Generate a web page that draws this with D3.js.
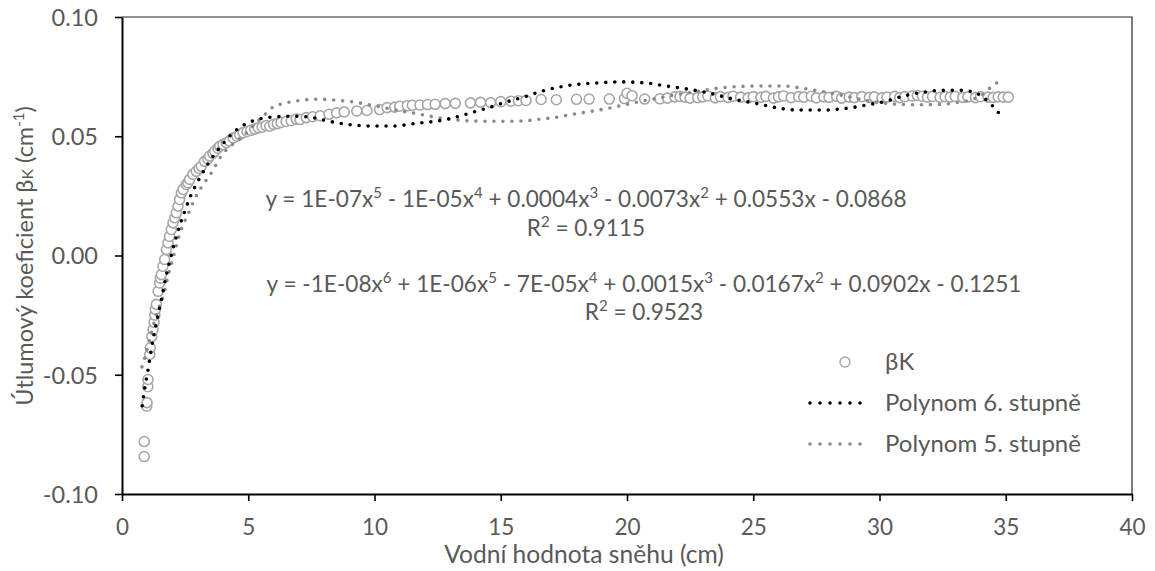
<!DOCTYPE html>
<html>
<head>
<meta charset="utf-8">
<script src="https://cdn.jsdelivr.net/npm/d3@7"></script>
<style>
  html, body { margin: 0; padding: 0; background: #fff; }
  svg { display: block; }
  text { font-family: Lato, "Noto Sans", sans-serif; fill: #595959; }
</style>
</head>
<body>
<svg id="chart" width="1155" height="571"></svg>
<script>
// Measured attenuation coefficient βK against snow water equivalent
const snowX = [
  0.88, 0.88, 0.98, 0.99, 1.02, 1.03, 1.10, 1.12, 1.18, 1.23, 1.27, 1.30, 1.32, 1.36,
  1.43, 1.49, 1.52, 1.56, 1.62, 1.69, 1.76, 1.82, 1.88, 1.95, 2.02, 2.09, 2.15, 2.22,
  2.28, 2.35, 2.42, 2.55, 2.61, 2.68, 2.81, 2.94, 3.05, 3.14, 3.27, 3.40, 3.47, 3.60,
  3.67, 3.80, 3.87, 4.00, 4.13, 4.25, 4.40, 4.55, 4.66, 4.80, 4.95, 5.10, 5.25, 5.40,
  5.55, 5.70, 5.85, 6.00, 6.15, 6.30, 6.50, 6.70, 6.90, 7.05, 7.30, 7.55, 7.85, 8.20,
  8.50, 8.80, 9.30, 9.70, 10.20, 10.50, 10.80, 11.00, 11.30, 11.50, 11.80, 12.10, 12.40,
  12.80, 13.20, 13.80, 14.20, 14.60, 15.00, 15.40, 15.70, 16.00, 16.60, 17.20, 18.00,
  18.50, 19.30, 19.90, 20.00, 20.20, 20.70, 21.30, 21.60, 21.90, 22.10, 22.30, 22.50,
  22.80, 23.00, 23.20, 23.50, 23.70, 24.00, 24.20, 24.50, 24.80, 25.00, 25.30, 25.50,
  25.80, 26.00, 26.20, 26.50, 26.80, 27.00, 27.30, 27.50, 27.80, 28.00, 28.30, 28.50,
  28.80, 29.00, 29.30, 29.60, 29.80, 30.10, 30.30, 30.60, 30.80, 31.00, 31.30, 31.50,
  31.70, 31.90, 32.10, 32.40, 32.60, 32.80, 33.00, 33.30, 33.50, 33.80, 34.00, 34.30,
  34.50, 34.70, 34.90, 35.10
];
const snowBeta = [
  -0.0843, -0.0780, -0.0632, -0.0617, -0.0550, -0.0520, -0.0415, -0.0387, -0.0340, -0.0310, -0.0280, -0.0250, -0.0226, -0.0205,
  -0.0150, -0.0115, -0.0095, -0.0080, -0.0045, -0.0017, 0.0025, 0.0053, 0.0080, 0.0109, 0.0137, 0.0158, 0.0179, 0.0207,
  0.0235, 0.0263, 0.0277, 0.0298, 0.0305, 0.0319, 0.0340, 0.0353, 0.0365, 0.0374, 0.0395, 0.0405, 0.0417, 0.0428,
  0.0437, 0.0450, 0.0458, 0.0465, 0.0473, 0.0480, 0.0493, 0.0500, 0.0507, 0.0515, 0.0520, 0.0525, 0.0530, 0.0535,
  0.0538, 0.0545, 0.0542, 0.0550, 0.0553, 0.0558, 0.0562, 0.0565, 0.0572, 0.0570, 0.0578, 0.0582, 0.0586, 0.0592,
  0.0598, 0.0602, 0.0606, 0.0608, 0.0612, 0.0620, 0.0622, 0.0626, 0.0628, 0.0630, 0.0631, 0.0633, 0.0634,
  0.0637, 0.0638, 0.0640, 0.0642, 0.0641, 0.0645, 0.0647, 0.0649, 0.0650, 0.0654, 0.0653, 0.0655,
  0.0656, 0.0656, 0.0658, 0.0680, 0.0670, 0.0656, 0.0657, 0.0660, 0.0665, 0.0667, 0.0664, 0.0660,
  0.0662, 0.0665, 0.0669, 0.0661, 0.0666, 0.0663, 0.0668, 0.0664, 0.0661, 0.0666, 0.0663, 0.0667,
  0.0660, 0.0665, 0.0669, 0.0662, 0.0666, 0.0664, 0.0668, 0.0661, 0.0665, 0.0663, 0.0667, 0.0660,
  0.0664, 0.0662, 0.0666, 0.0663, 0.0665, 0.0661, 0.0664, 0.0667, 0.0662, 0.0666, 0.0669, 0.0671,
  0.0668, 0.0664, 0.0667, 0.0663, 0.0666, 0.0664, 0.0667, 0.0663, 0.0665, 0.0662, 0.0666, 0.0664,
  0.0663, 0.0665, 0.0664, 0.0664
];

// Sampled course of the 6th-degree polynomial trendline
const poly6X = [
  0.80, 0.91, 1.03, 1.15, 1.27, 1.43, 1.57, 1.72, 1.90, 2.10, 2.30, 2.50, 2.72, 3.00, 3.27,
  3.50, 3.93, 4.40, 5.20, 6.00, 6.80, 7.45, 8.10, 8.90, 9.95, 10.70, 11.80, 12.50, 13.10,
  13.80, 14.50, 15.10, 15.80, 16.80, 17.90, 18.90, 19.70, 20.80, 21.40, 22.50, 23.30, 24.20,
  25.00, 26.00, 26.70, 27.80, 28.90, 29.60, 30.30, 30.90, 31.70, 32.40, 33.10, 33.70, 34.10,
  34.40, 34.65, 34.90
];
const poly6Y = [
  -0.0630, -0.0550, -0.0480, -0.0400, -0.0330, -0.0250, -0.0180, -0.0100, -0.0020, 0.0060, 0.0130, 0.0190, 0.0250, 0.0310, 0.0360,
  0.0400, 0.0460, 0.0515, 0.0565, 0.0581, 0.0584, 0.0580, 0.0565, 0.0550, 0.0543, 0.0543, 0.0556, 0.0564, 0.0577,
  0.0598, 0.0619, 0.0640, 0.0661, 0.0694, 0.0716, 0.0724, 0.0728, 0.0723, 0.0713, 0.0696, 0.0680, 0.0656,
  0.0640, 0.0618, 0.0610, 0.0610, 0.0620, 0.0633, 0.0648, 0.0667, 0.0684, 0.0692, 0.0693, 0.0686, 0.0664,
  0.0636, 0.0607, 0.0573
];

// Sampled course of the 5th-degree polynomial trendline
const poly5X = [
  0.79, 0.90, 1.00, 1.15, 1.30, 1.45, 1.56, 1.66, 1.82, 2.02, 2.32, 2.61, 2.90, 3.20, 3.54,
  3.93, 4.46, 4.86, 5.30, 5.70, 6.02, 6.36, 6.72, 7.05, 7.40, 7.77, 8.13, 8.50, 8.87, 9.23,
  9.58, 9.93, 10.28, 10.60, 10.97, 11.30, 11.67, 12.00, 12.36, 12.72, 13.06, 13.40, 13.78,
  14.50, 15.20, 15.90, 16.40, 17.10, 17.80, 18.50, 19.20, 19.92, 20.58, 21.28, 21.95, 22.70,
  23.40, 24.08, 24.85, 25.50, 26.30, 27.00, 27.70, 28.55, 29.30, 30.06, 30.73, 31.43, 32.30,
  33.00, 33.65, 34.00, 34.30, 34.60, 34.90
];
const poly5Y = [
  -0.0467, -0.0430, -0.0390, -0.0330, -0.0270, -0.0220, -0.0195, -0.0160, -0.0087, -0.0010, 0.0102, 0.0172, 0.0242, 0.0295, 0.0347,
  0.0417, 0.0473, 0.0507, 0.0555, 0.0595, 0.0625, 0.0636, 0.0645, 0.0650, 0.0654, 0.0655, 0.0654, 0.0651, 0.0647, 0.0643,
  0.0636, 0.0629, 0.0623, 0.0615, 0.0608, 0.0601, 0.0595, 0.0588, 0.0581, 0.0574, 0.0570, 0.0567, 0.0564,
  0.0563, 0.0563, 0.0564, 0.0570, 0.0578, 0.0591, 0.0603, 0.0616, 0.0632, 0.0647, 0.0661, 0.0674, 0.0686,
  0.0699, 0.0706, 0.0710, 0.0711, 0.0710, 0.0700, 0.0688, 0.0671, 0.0654, 0.0640, 0.0634, 0.0632, 0.0633,
  0.0640, 0.0654, 0.0668, 0.0696, 0.0720, 0.0742
];

const xTicks = [0, 5, 10, 15, 20, 25, 30, 35, 40];
const yTicks = [-0.10, -0.05, 0.00, 0.05, 0.10];
const legendLabels = ["βK", "Polynom 6. stupně", "Polynom 5. stupně"];

const svg = d3.select("#chart");
const x = d3.scaleLinear().domain([0, 40]).range([122, 1132]);
const y = d3.scaleLinear().domain([-0.10, 0.10]).range([494, 17]);

const fmtY = d => d3.format(".2f")(d).replace("\u2212", "-");

// plot-area frame (top and right edges)
svg.append("path")
  .attr("d", `M${x(0)},${y(0.10)}H${x(40)}V${y(-0.10)}`)
  .attr("fill", "none").attr("stroke", "#262626").attr("stroke-width", 1.2);

// axes
const gx = svg.append("g").attr("transform", `translate(0,${y(-0.10)})`)
  .call(d3.axisBottom(x).tickValues(xTicks).tickSize(7).tickSizeOuter(0).tickPadding(18));
const gy = svg.append("g").attr("transform", `translate(${x(0)},0)`)
  .call(d3.axisLeft(y).tickValues(yTicks).tickFormat(fmtY).tickSize(7).tickSizeOuter(0).tickPadding(17));
[gx, gy].forEach(g => {
  g.select(".domain").attr("stroke", "#000").attr("stroke-width", 2);
  g.selectAll(".tick line").attr("stroke", "#000").attr("stroke-width", 1.6);
  g.selectAll(".tick text").style("font-family", "Lato").style("font-size", "22.5px").attr("fill", "#595959");
});
gy.selectAll(".tick text").style("font-size", "23.5px").attr("dy", "0.36em");

// data points
svg.append("g").selectAll("circle")
  .data(snowX.map((v, i) => [v, snowBeta[i]]))
  .join("circle")
  .attr("cx", d => x(d[0])).attr("cy", d => y(d[1])).attr("r", 5)
  .attr("fill", "#fff").attr("stroke", "#a6a6a6").attr("stroke-width", 1.6);

// trendlines
const line = d3.line().x(d => x(d[0])).y(d => y(d[1])).curve(d3.curveMonotoneX);
function dotted(sel, color, width, gap) {
  return sel.attr("fill", "none").attr("stroke", color).attr("stroke-width", width)
    .attr("stroke-linecap", "round").attr("stroke-dasharray", `0 ${gap}`);
}
dotted(svg.append("path").attr("d", line(poly5X.map((v, i) => [v, poly5Y[i]]))), "#8a8a8a", 3.6, 9);
dotted(svg.append("path").attr("d", line(poly6X.map((v, i) => [v, poly6Y[i]]))), "#000", 3.6, 9);

// trendline equations
function eqLine(cx, cy, parts) {
  const t = svg.append("text").attr("x", cx).attr("y", cy).attr("text-anchor", "middle")
    .style("font-size", "22.6px");
  parts.forEach(p => {
    if (typeof p === "string") t.append("tspan").text(p);
    else t.append("tspan").attr("baseline-shift", "super").style("font-size", "15px").text(p.sup);
  });
  return t;
}
eqLine(586, 207, ["y = 1E-07x", {sup: "5"}, " - 1E-05x", {sup: "4"}, " + 0.0004x", {sup: "3"},
  " - 0.0073x", {sup: "2"}, " + 0.0553x - 0.0868"]);
eqLine(586, 236, ["R", {sup: "2"}, " = 0.9115"]);
eqLine(644, 292, ["y = -1E-08x", {sup: "6"}, " + 1E-06x", {sup: "5"}, " - 7E-05x", {sup: "4"},
  " + 0.0015x", {sup: "3"}, " - 0.0167x", {sup: "2"}, " + 0.0902x - 0.1251"]);
eqLine(644, 320, ["R", {sup: "2"}, " = 0.9523"]);

// axis titles
svg.append("text").attr("x", 584).attr("y", 563).attr("text-anchor", "middle")
  .style("font-size", "24.6px").text("Vodní hodnota sněhu (cm)");
const yt = svg.append("text").attr("transform", `translate(33,256) rotate(-90)`)
  .attr("text-anchor", "middle").style("font-size", "23.5px");
yt.append("tspan").text("Útlumový koeficient β");
yt.append("tspan").style("font-size", "16px").text("K");
yt.append("tspan").text(" (cm");
yt.append("tspan").attr("baseline-shift", "super").style("font-size", "15px").text("-1");
yt.append("tspan").text(")");

// legend
const lg = svg.append("g");
lg.append("circle").attr("cx", 845).attr("cy", 362).attr("r", 5)
  .attr("fill", "#fff").attr("stroke", "#a6a6a6").attr("stroke-width", 1.4);
dotted(lg.append("path").attr("d", "M810,403H870"), "#000", 3.6, 10);
dotted(lg.append("path").attr("d", "M810,444H870"), "#8a8a8a", 3.6, 10);
legendLabels.forEach((s, i) => {
  lg.append("text").attr("x", 885).attr("y", 370 + i * 41).style("font-size", "24px").text(s);
});
</script>
</body>
</html>
